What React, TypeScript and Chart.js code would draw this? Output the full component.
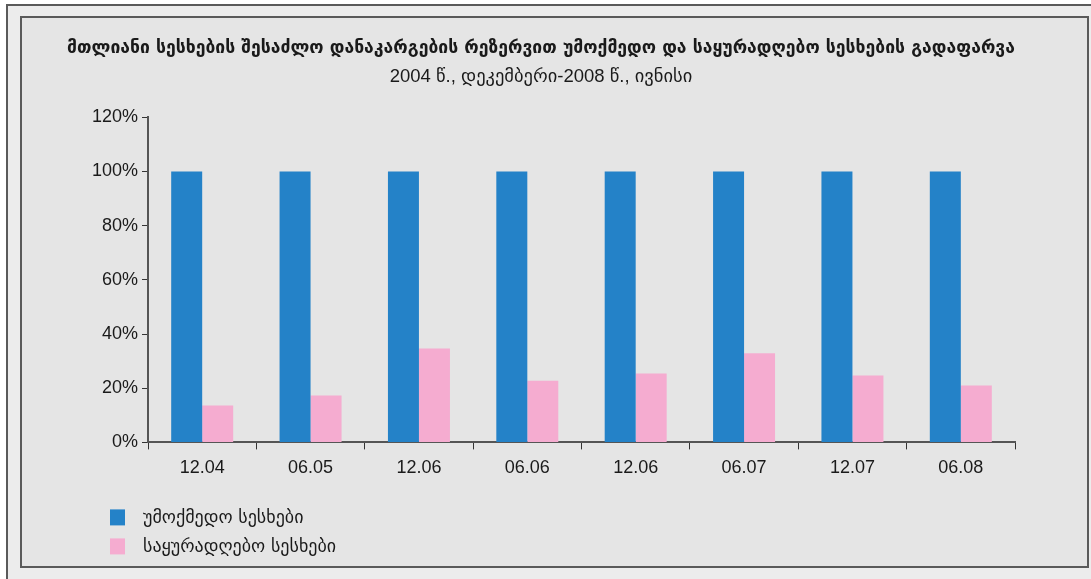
import React, { useEffect, useRef } from "react";
import { Chart, registerables } from "chart.js";

Chart.register(...registerables);

const categories = ["12.04", "06.05", "12.06", "06.06", "12.06", "06.07", "12.07", "06.08"];
const nonPerformingLoans = [100, 100, 100, 100, 100, 100, 100, 100];
const watchLoans = [13.6, 17.3, 34.7, 22.8, 25.4, 32.9, 24.7, 21.0];
const yTicks = [0, 20, 40, 60, 80, 100, 120];
const seriesNames = ["უმოქმედო სესხები", "საყურადღებო სესხები"];
const titleText = "მთლიანი სესხების შესაძლო დანაკარგების რეზერვით უმოქმედო და საყურადღებო სესხების გადაფარვა";
const subtitleText = "2004 წ., დეკემბერი-2008 წ., ივნისი";

const BLUE = "#2482c8";
const PINK = "#f5acd0";
const TEXT = "#1a1a1a";
const FONT = "'Liberation Sans', Arial, 'DejaVu Sans', sans-serif";

const legendPlugin = {
  id: "vertLegend",
  afterDraw(chart: any) {
    const ctx = chart.ctx;
    const area = chart.chartArea;
    const x0 = area.left - 38;
    const y0 = area.bottom + 67;
    ctx.save();
    ctx.font = "18px 'DejaVu Sans', sans-serif";
    ctx.textBaseline = "middle";
    chart.data.datasets.forEach((ds: any, i: number) => {
      const y = y0 + i * 29;
      ctx.fillStyle = ds.backgroundColor;
      ctx.fillRect(x0, y, 15, 16);
      ctx.fillStyle = TEXT;
      ctx.fillText(ds.label, x0 + 33, y + 9);
    });
    ctx.restore();
  },
};

export default function App() {
  const ref = useRef<HTMLCanvasElement | null>(null);

  useEffect(() => {
    if (!ref.current) return;
    const chart = new Chart(ref.current, {
      type: "bar",
      data: {
        labels: categories,
        datasets: [
          {
            label: seriesNames[0],
            data: nonPerformingLoans,
            backgroundColor: BLUE,
            categoryPercentage: 0.572,
            barPercentage: 1,
          },
          {
            label: seriesNames[1],
            data: watchLoans,
            backgroundColor: PINK,
            categoryPercentage: 0.572,
            barPercentage: 1,
          },
        ],
      },
      options: {
        responsive: false,
        animation: false,
        devicePixelRatio: 1,
        layout: { padding: { left: 67, right: 76, top: 0, bottom: 92 } },
        plugins: {
          legend: { display: false },
          tooltip: { enabled: false },
          title: {
            display: true,
            text: titleText,
            color: TEXT,
            font: { family: "'DejaVu Sans', sans-serif", size: 17.6, weight: "bold" },
            padding: { top: 38, bottom: 0 },
          },
          subtitle: {
            display: true,
            text: subtitleText,
            color: TEXT,
            font: { family: FONT, size: 18.5 },
            padding: { top: 7, bottom: 29 },
          },
        },
        scales: {
          x: {
            grid: {
              display: true,
              drawOnChartArea: false,
              drawTicks: true,
              tickLength: 7,
              color: "#333",
              offset: true,
            },
            border: { display: true, color: "#555", width: 2 },
            ticks: { color: TEXT, font: { family: FONT, size: 18 }, padding: 8 },
          },
          y: {
            min: 0,
            max: 120,
            afterFit(scale: any) {
              scale.width = 81;
            },
            afterBuildTicks(scale: any) {
              scale.ticks = yTicks.map((v) => ({ value: v }));
            },
            grid: {
              display: true,
              drawOnChartArea: false,
              drawTicks: true,
              tickLength: 6,
              color: "#333",
            },
            border: { display: true, color: "#555", width: 2 },
            ticks: {
              color: TEXT,
              font: { family: FONT, size: 18 },
              padding: 4,
              callback: (v: any) => `${v}%`,
            },
          },
        },
      },
      plugins: [legendPlugin],
    } as any);
    return () => chart.destroy();
  }, []);

  return (
    <div style={{ position: "fixed", left: 0, top: 0, width: 1091, height: 579, background: "#ffffff", overflow: "hidden" }}>
      <div
        style={{
          position: "absolute",
          left: 6,
          top: 4,
          width: 1100,
          height: 600,
          background: "#ececec",
          border: "2px solid #5a5a5a",
          boxSizing: "border-box",
        }}
      />
      <div
        style={{
          position: "absolute",
          left: 20,
          top: 16,
          width: 1069,
          height: 552,
          background: "#e5e5e5",
          border: "2px solid #5a5a5a",
          boxSizing: "border-box",
        }}
      />
      <canvas ref={ref} width={1091} height={579} style={{ position: "absolute", left: 0, top: 0 }} />
    </div>
  );
}
